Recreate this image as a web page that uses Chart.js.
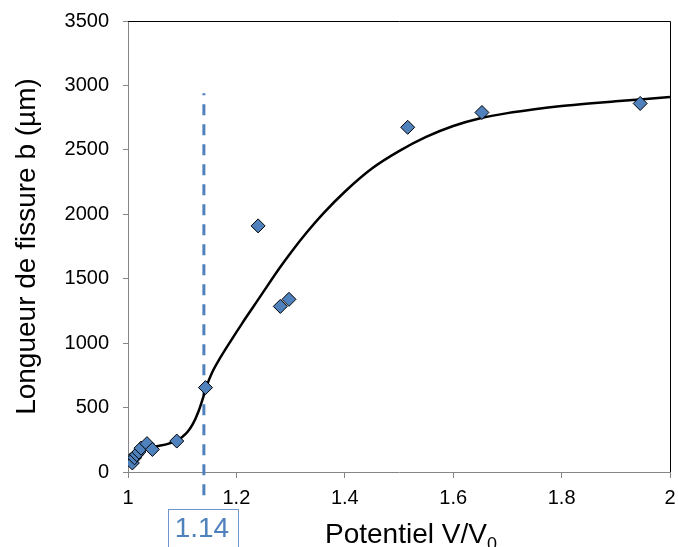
<!DOCTYPE html>
<html>
<head>
<meta charset="utf-8">
<script src="https://cdn.jsdelivr.net/npm/chart.js@4.4.0/dist/chart.umd.min.js"></script>
<style>
  html, body { margin: 0; padding: 0; background: #fff; }
  #wrap { width: 678px; height: 547px; }
</style>
</head>
<body>
<div id="wrap"><canvas id="graphique"></canvas></div>
<script>
// mesures (points)
const mesuresX = [1.005, 1.008, 1.012, 1.016, 1.020, 1.024, 1.035, 1.045, 1.090, 1.143, 1.240, 1.281, 1.297, 1.516, 1.653, 1.945];
const mesuresY = [95, 70, 110, 135, 155, 185, 220, 175, 240, 655, 1910, 1285, 1340, 2675, 2790, 2860];

// courbe de tendance
const courbeX = [1.000, 1.010, 1.020, 1.030, 1.045, 1.060, 1.075, 1.090, 1.100, 1.110, 1.120, 1.130, 1.138, 1.145, 1.155, 1.170, 1.190, 1.210, 1.230, 1.250, 1.280, 1.300, 1.330, 1.360, 1.400, 1.450, 1.500, 1.550, 1.600, 1.650, 1.700, 1.750, 1.800, 1.850, 1.900, 1.950, 2.000];
const courbeY = [80, 120, 160, 185, 195, 205, 220, 245, 272, 312, 375, 470, 570, 665, 770, 885, 1020, 1150, 1275, 1400, 1585, 1700, 1860, 2005, 2175, 2355, 2490, 2600, 2685, 2745, 2785, 2815, 2840, 2860, 2877, 2893, 2910];

// seuil
const seuilX = 1.14;
const seuilY = [-180, 2940];
const seuilTexte = "1.14";

const ticksX = [1, 1.2, 1.4, 1.6, 1.8, 2];
const ticksY = [0, 500, 1000, 1500, 2000, 2500, 3000, 3500];

const police = "'Liberation Sans', Arial, sans-serif";
const gris = '#868686';
const bleu = '#4F81BD';

const pointsMesures = mesuresX.map((x, i) => ({ x: x, y: mesuresY[i] }));
const pointsCourbe = courbeX.map((x, i) => ({ x: x, y: courbeY[i] }));
const pointsSeuil = seuilY.map(y => ({ x: seuilX, y: y }));

// titres, cadre et étiquette 1.14
const decor = {
  id: 'decor',
  afterDraw(chart) {
    const ctx = chart.ctx;
    const a = chart.chartArea;
    ctx.save();
    // cadre haut et droite
    ctx.strokeStyle = '#000';
    ctx.lineWidth = 1;
    ctx.beginPath();
    ctx.moveTo(a.left, Math.round(a.top) + 0.5);
    ctx.lineTo(Math.round(a.right) + 0.5, Math.round(a.top) + 0.5);
    ctx.lineTo(Math.round(a.right) + 0.5, a.bottom);
    ctx.stroke();

    ctx.fillStyle = '#000';
    // titre axe Y
    ctx.save();
    ctx.translate(35, (a.top + a.bottom) / 2);
    ctx.rotate(-Math.PI / 2);
    ctx.font = '28px ' + police;
    ctx.textAlign = 'center';
    ctx.textBaseline = 'alphabetic';
    ctx.fillText('Longueur de fissure b (µm)', 0, 0);
    ctx.restore();

    // titre axe X avec indice
    ctx.font = '28px ' + police;
    ctx.textAlign = 'left';
    ctx.textBaseline = 'alphabetic';
    const t = 'Potentiel V/V';
    ctx.fillText(t, 325, 543);
    const w = ctx.measureText(t).width;
    ctx.font = '18px ' + police;
    ctx.fillText('0', 325 + w, 550);

    // étiquette du seuil
    const xs = chart.scales.x.getPixelForValue(seuilX);
    ctx.strokeStyle = '#6f97c9';
    ctx.strokeRect(168.5, 509.5, 70, 50);
    ctx.fillStyle = bleu;
    ctx.font = '28px ' + police;
    ctx.textAlign = 'center';
    ctx.fillText(seuilTexte, xs - 2, 537);
    ctx.restore();
  }
};

new Chart(document.getElementById('graphique'), {
  type: 'scatter',
  data: {
    datasets: [
      {
        data: pointsMesures,
        showLine: false,
        pointStyle: 'rectRot',
        pointRadius: 7,
        backgroundColor: bleu,
        borderColor: '#000',
        borderWidth: 1,
        order: 0
      },
      {
        data: pointsCourbe,
        showLine: true,
        borderColor: '#000',
        borderWidth: 2.5,
        pointRadius: 0,
        cubicInterpolationMode: 'monotone',
        order: 1
      },
      {
        data: pointsSeuil,
        showLine: true,
        borderColor: bleu,
        borderWidth: 3,
        borderDash: [11, 9],
        pointRadius: 0,
        clip: false,
        order: 2
      }
    ]
  },
  options: {
    responsive: true,
    maintainAspectRatio: false,
    animation: false,
    layout: { padding: { top: 21, right: 5, left: 0, bottom: 0 } },
    plugins: { legend: { display: false }, tooltip: { enabled: false } },
    scales: {
      x: {
        type: 'linear',
        min: 1, max: 2,
        afterBuildTicks: s => { s.ticks = ticksX.map(v => ({ value: v })); },
        afterFit: s => { s.height = 75; s.paddingLeft = 0; s.paddingRight = 0; },
        border: { color: gris, width: 1 },
        grid: { drawOnChartArea: false, drawTicks: true, tickLength: 6, color: gris },
        ticks: {
          color: '#000',
          padding: 8,
          maxRotation: 0,
          font: { family: police, size: 20 },
          callback: v => String(Number(v.toFixed(1)))
        }
      },
      y: {
        type: 'linear',
        min: 0, max: 3500,
        afterBuildTicks: s => { s.ticks = ticksY.map(v => ({ value: v })); },
        afterFit: s => { s.width = 128; s.paddingTop = 0; s.paddingBottom = 0; },
        border: { color: gris, width: 1 },
        grid: { drawOnChartArea: false, drawTicks: true, tickLength: 5, color: gris },
        ticks: {
          color: '#000',
          padding: 14,
          font: { family: police, size: 20 },
          callback: v => String(v)
        }
      }
    }
  },
  plugins: [decor]
});
</script>
</body>
</html>
